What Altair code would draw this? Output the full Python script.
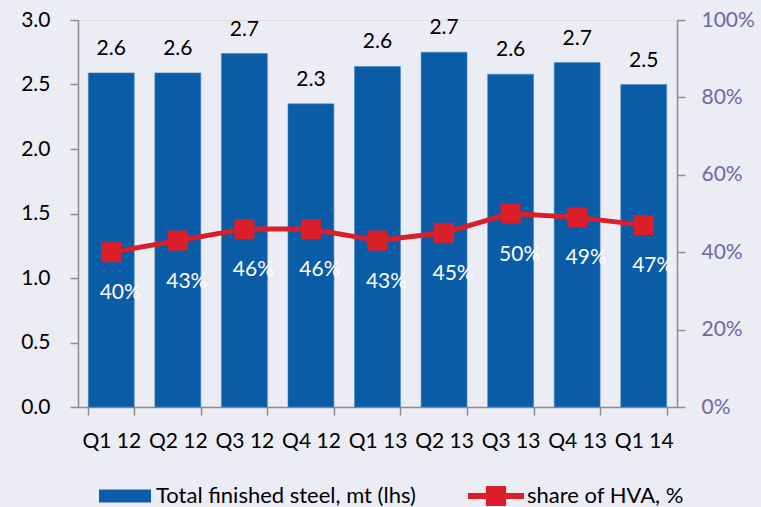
import altair as alt
import pandas as pd

quarters = ["Q1 12", "Q2 12", "Q3 12", "Q4 12", "Q1 13", "Q2 13", "Q3 13", "Q4 13", "Q1 14"]
steel_mt = [2.59, 2.59, 2.74, 2.35, 2.64, 2.75, 2.58, 2.67, 2.50]
steel_labels = ["2.6", "2.6", "2.7", "2.3", "2.6", "2.7", "2.6", "2.7", "2.5"]
hva_share = [0.40, 0.43, 0.46, 0.46, 0.43, 0.45, 0.50, 0.49, 0.47]
hva_labels = ["40%", "43%", "46%", "46%", "43%", "45%", "50%", "49%", "47%"]

BAR_NAME = "Total finished steel, mt (lhs)"
LINE_NAME = "share of HVA, %"

df = pd.DataFrame({
    "q": quarters,
    "steel": steel_mt,
    "steel_lbl": steel_labels,
    "hva": hva_share,
    "hva_lbl": hva_labels,
    "bar_series": [BAR_NAME] * len(quarters),
    "line_series": [LINE_NAME] * len(quarters),
})

BLUE = "#0B5CA7"
RED = "#DB1F2A"
FONT = "Lato"

x = alt.X("q:N", sort=quarters, title=None,
          scale=alt.Scale(paddingInner=0.31, paddingOuter=0.155),
          axis=alt.Axis(labelAngle=0, labelFontSize=21, labelColor="#000000",
                        domainColor="#8C8C8C", domainWidth=1.5, tickColor="#8C8C8C",
                        tickWidth=1.5, tickSize=8, tickBand="extent", labelPadding=15,
                        labelFont=FONT))

y_left = alt.Y("steel:Q", title=None,
               scale=alt.Scale(domain=[0, 3.0], nice=False),
               axis=alt.Axis(values=[0, 0.5, 1.0, 1.5, 2.0, 2.5, 3.0], format=".1f",
                             grid=False, labelFontSize=21, labelColor="#000000",
                             domainColor="#8C8C8C", domainWidth=1.5, tickColor="#8C8C8C",
                             tickWidth=1.5, tickSize=8, labelPadding=20, labelFont=FONT))

bars = alt.Chart(df).mark_bar(stroke="#4E86C0", strokeWidth=0.6).encode(
    x=x,
    y=y_left,
    color=alt.Color("bar_series:N", title=None,
                    scale=alt.Scale(domain=[BAR_NAME], range=[BLUE]),
                    legend=alt.Legend(orient="none", legendX=21, legendY=450,
                                      symbolType="M-1,-0.25H1V0.25H-1Z", symbolSize=2704,
                                      symbolStrokeWidth=0, labelFontSize=22, labelColor="#000000",
                                      labelFont=FONT, labelOffset=5, padding=0, labelLimit=400)),
)

bar_text = alt.Chart(df).mark_text(baseline="alphabetic", dy=-18, fontSize=21,
                                   color="#000000", font=FONT).encode(
    x=alt.X("q:N", sort=quarters),
    y=alt.Y("steel:Q"),
    text="steel_lbl:N",
)

left = alt.layer(bars, bar_text)

y_right = alt.Y("hva:Q", title=None,
                scale=alt.Scale(domain=[0, 1], nice=False),
                axis=alt.Axis(orient="right", values=[0, 0.2, 0.4, 0.6, 0.8, 1.0], format=".0%",
                              grid=False, labelFontSize=21, labelColor="#6E6AA0",
                              domainColor="#8C8C8C", domainWidth=1.5, tickColor="#8C8C8C",
                              tickWidth=1.5, tickSize=8, labelPadding=16, labelFont=FONT))

line = alt.Chart(df).mark_line(color=RED, strokeWidth=5).encode(
    x=alt.X("q:N", sort=quarters),
    y=y_right,
)

points = alt.Chart(df).mark_point(shape="square", filled=True, size=400, opacity=1).encode(
    x=alt.X("q:N", sort=quarters),
    y=alt.Y("hva:Q"),
    color=alt.Color("line_series:N", title=None,
                    scale=alt.Scale(domain=[LINE_NAME], range=[RED]),
                    legend=alt.Legend(orient="none", legendX=390, legendY=448,
                                      symbolType="M-1,-0.11L-0.36,-0.11L-0.36,-0.36L0.36,-0.36L0.36,-0.11L1,-0.11L1,0.11L0.36,0.11L0.36,0.36L-0.36,0.36L-0.36,0.11L-1,0.11Z",
                                      symbolSize=3136, symbolStrokeWidth=0,
                                      labelFontSize=22, labelColor="#000000",
                                      labelFont=FONT, labelOffset=3, padding=0, labelLimit=400)),
)

pct_text = alt.Chart(df).mark_text(baseline="middle", dy=41, dx=9, fontSize=21,
                                   color="#FFFFFF", font=FONT).encode(
    x=alt.X("q:N", sort=quarters),
    y=alt.Y("hva:Q"),
    text="hva_lbl:N",
)

right = alt.layer(line, points, pct_text)

chart = alt.layer(left, right).resolve_scale(
    y="independent", color="independent"
).properties(
    width=599, height=387,
    autosize=alt.AutoSizeParams(type="none"),
    padding={"left": 78, "top": 20, "right": 84, "bottom": 100},
    background="#ECECF4",
).configure_view(stroke=None).configure(font=FONT)

chart.save("out.html", embed_options={"renderer": "svg", "actions": False})
